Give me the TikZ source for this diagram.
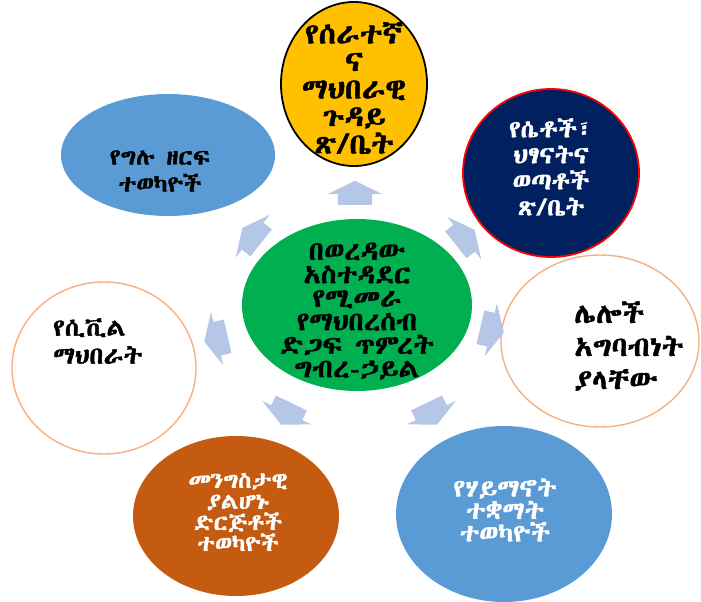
\documentclass[tikz,border=0pt]{standalone}
\usepackage{fontspec}
\usetikzlibrary{shapes.geometric,shapes.arrows}
\IfFontExistsTF{Abyssinica SIL}{\newfontfamily\eth[FakeBold=1.6,FakeStretch=1.1]{Abyssinica SIL}}{%
  \IfFontExistsTF{FreeSerif}{\newfontfamily\eth[FakeBold=1.6,FakeStretch=1.1]{FreeSerif}}{%
    \newfontfamily\eth[FakeBold=1.6,FakeStretch=1.1]{Noto Sans Ethiopic}}}
\definecolor{cyel}{HTML}{FFC000}
\definecolor{cnavy}{HTML}{002060}
\definecolor{cblue}{HTML}{5B9BD5}
\definecolor{cgreen}{HTML}{00B050}
\definecolor{corange}{HTML}{F4B183}
\definecolor{cbrown}{HTML}{C55A11}
\definecolor{carrow}{HTML}{B4C7E7}
\begin{document}
\begin{tikzpicture}[x=1pt,y=-1pt,
  ell/.style={ellipse, inner sep=0pt, outer sep=0pt},
  blk/.style={single arrow, fill=carrow, draw=none, minimum height=24pt,
    inner xsep=0pt, inner ysep=17pt, single arrow head extend=10pt,
    single arrow tip angle=128},
  lab/.style={inner sep=0pt, align=center, font=\eth},
  labl/.style={inner sep=0pt, align=left, font=\eth}]
\useasboundingbox (0,0) rectangle (701,602);
% outer ellipses
\node[ell, fill=cyel, draw=black, line width=1.8pt, minimum width=146pt, minimum height=164pt] (top) at (354,84) {};
\node[ell, fill=cnavy, draw=red, line width=1.8pt, minimum width=176pt, minimum height=168pt] (tr) at (551,173) {};
\node[ell, fill=cblue, minimum width=214pt, minimum height=122pt] (tl) at (168,155) {};
\node[ell, fill=white, draw=corange, line width=1.4pt, minimum width=198pt, minimum height=172pt] (rt) at (600,341) {};
\node[ell, fill=white, draw=corange, line width=1.4pt, minimum width=184pt, minimum height=172pt] (lt) at (104,368) {};
\node[ell, fill=cbrown, minimum width=206pt, minimum height=160pt] (bl) at (236,516) {};
\node[ell, fill=cblue, minimum width=216pt, minimum height=176pt] (br) at (504,514) {};
% centre
\node[ell, fill=cgreen, minimum width=230pt, minimum height=172pt] (ctr) at (357,305) {};
% arrows
\node[blk, rotate=90] (a1) at (355,197) {};
\node[blk, rotate=38.6] (a2) at (462,240) {};
\node[blk, rotate=-12.9] (a3) at (488,329) {};
\node[blk, rotate=-64.3] (a4) at (430,410) {};
\node[blk, rotate=244.3] (a5) at (288,410) {};
\node[blk, rotate=192.9] (a6) at (220,338) {};
\node[blk, rotate=141.4] (a7) at (255,238) {};
% texts
\node[lab, font=\eth\fontsize{28.5}{27.5}\selectfont] (ttop) at (354,88) {የሰራተኛ\\ና\\ማህበራዊ\\ጉዳይ\\ጽ/ቤት};
\node[lab, text=white, font=\eth\fontsize{24}{26}\selectfont] (ttr) at (551,167) {የሴቶች፣\\ህፃናትና\\ወጣቶች\\ጽ/ቤት};
\node[lab, font=\eth\fontsize{22.5}{27}\selectfont] (ttl) at (160,171) {የግሉ ዘርፍ\\ተወካዮች};
\node[lab, font=\eth\fontsize{26}{23.5}\selectfont] (tctr) at (357,311) {በወረዳው\\አስተዳደር\\የሚመራ\\የማህበረሰብ\\ድጋፍ ጥምረት\\ግብረ-ኃይል};
\node[labl, anchor=west, font=\eth\fontsize{27.5}{33}\selectfont] (trt) at (574,346) {ሌሎች\\አግባብነት\\ያላቸው};
\node[labl, anchor=west, font=\eth\fontsize{24}{28}\selectfont] (tlt) at (53,341) {የሲቪል\\ማህበራት};
\node[lab, text=white, font=\eth\fontsize{22}{21}\selectfont] (tbl) at (238,512) {መንግስታዊ\\ያልሆኑ\\ድርጅቶች\\ተወካዮች};
\node[lab, text=white, font=\eth\fontsize{24.5}{22.5}\selectfont] (tbr) at (505,510) {የሃይማኖት\\ተቋማት\\ተወካዮች};
\end{tikzpicture}
\end{document}
